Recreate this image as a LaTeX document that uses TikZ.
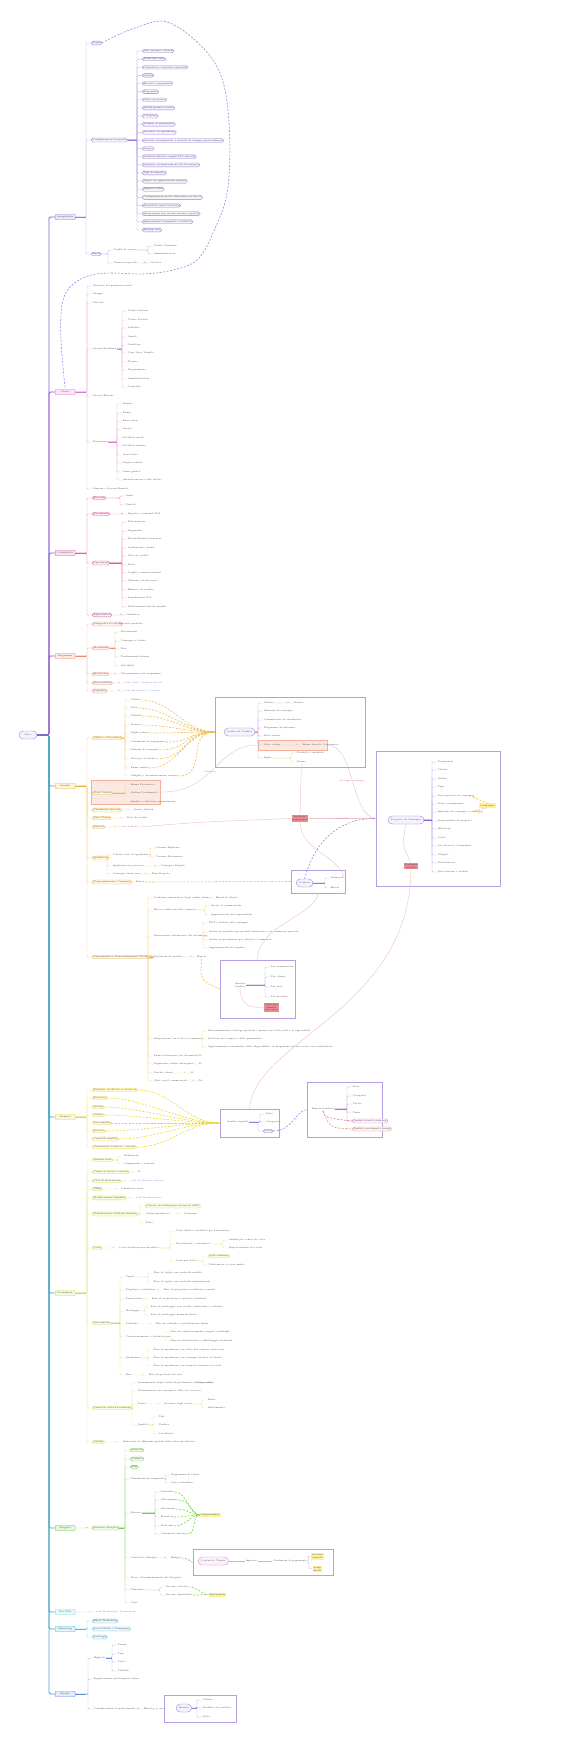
\documentclass[tikz,border=0pt]{standalone}
\usetikzlibrary{positioning}
\definecolor{cPurple}{HTML}{9A7BDF}
\definecolor{cMagenta}{HTML}{E07AD4}
\definecolor{cRose}{HTML}{E2579F}
\definecolor{cSalmon}{HTML}{EE8C6E}
\definecolor{cAmber}{HTML}{F2B634}
\definecolor{cYellow}{HTML}{EFD51C}
\definecolor{cLime}{HTML}{C6E24A}
\definecolor{cGreen}{HTML}{70CC46}
\definecolor{cTeal}{HTML}{8AD6D6}
\definecolor{cCyan}{HTML}{4DBDE6}
\definecolor{cBlue}{HTML}{6A8CDB}
\definecolor{cBox}{HTML}{B59FE2}
\definecolor{cRed}{HTML}{E88994}
\definecolor{cNote}{HTML}{FFF19A}
\definecolor{cLink}{HTML}{F0C4CB}
\definecolor{cTrunkA}{HTML}{8A5FC7}
\definecolor{cTrunkB}{HTML}{4FA6C4}
\definecolor{cViolet}{HTML}{A070E0}
\definecolor{cLinkBlue}{HTML}{7A8FE0}
\newcommand\fs{\fontsize{2.3}{2.7}\selectfont}
\tikzset{%
  txt/.style = {font=\fs, text=black!70, inner sep=0.6pt, anchor=west},
  pill/.style = {txt, draw=#1, fill=#1!10, rounded corners=1.8pt,
    line width=0.35pt, inner xsep=1.4pt, inner ysep=0.9pt},
  l1/.style = {pill=#1, fill=#1!18, rounded corners=1pt,
    minimum width=20pt, minimum height=5.5pt},
  oval/.style = {pill=#1, rounded corners=4pt, minimum height=8pt, inner xsep=3pt},
  frame/.style = {draw=cBox, line width=0.9pt, fill=white, inner sep=0pt},
  hlbox/.style = {draw=cSalmon!70, fill=cSalmon!20, line width=0.5pt, inner sep=0pt},
  redbox/.style = {font=\fs, fill=cRed, text=black!75, inner sep=1pt, align=center},
  note/.style = {font=\fs, fill=cNote, text=black!70, inner sep=1.2pt, align=center},
  map/.style = {#1, dash pattern=on 2pt off 1.5pt, line width=0.55pt},
  xref/.style = {cLink, line width=0.45pt},
}
% children of one parent: [style] parent color x prefix {y/text,...}
\newcommand\kids[6][txt]{%
  \foreach \yy/\lab [count=\k] in {#6}{%
    \node[#1=#3] (#5\k) at (#4,\yy) {\lab};
    \draw[#3!55, line width=0.4pt, rounded corners=1pt] (#5\k.west) -- ++(-5,0) |- (#2.east);
  }}
\newcommand\con[3]{\draw[#3!55, line width=0.4pt, rounded corners=1pt] (#2.west) -- ++(-5,0) |- (#1.east);}
\newcommand\stem[3]{\coordinate (stm) at (#3,0); \draw[#2, line width=0.9pt] (#1.east) -- (#1.east -| stm);}

\begin{document}
\begin{tikzpicture}[x=1pt,y=-1pt]
\useasboundingbox[fill=white] (0,0) rectangle (569,1755);

% frames
\node[frame, minimum width=150pt, minimum height=70pt] (boxA) at (290,732) {};
\node[frame, minimum width=124pt, minimum height=135pt] (boxP) at (438,818.5) {};
\node[frame, minimum width=54pt, minimum height=23pt] (boxC) at (318,881.5) {};
\node[frame, minimum width=75pt, minimum height=58pt] (boxD) at (257.5,989) {};
\node[frame, minimum width=59pt, minimum height=28pt] (boxE) at (249.5,1123) {};
\node[frame, minimum width=75pt, minimum height=55pt] (boxF) at (344.5,1109.5) {};
\node[frame, minimum width=140pt, minimum height=26pt] (boxG) at (263,1562) {};
\node[frame, minimum width=72pt, minimum height=27pt] (boxH) at (200,1708.5) {};
\node[hlbox, minimum width=69pt, minimum height=10pt] (hlA) at (292.5,745) {};
\node[hlbox, minimum width=69pt, minimum height=24pt] (hlE) at (125.5,792) {};

% root and first level
\node[oval=cPurple, anchor=center, minimum width=18pt] (root) at (28,735) {Odoo};
\foreach \nm/\yy/\cl/\lab in {A/217/cPurple/Anagrafiche, B/392/cMagenta/Utenti,
  C/553/cRose/Contabilità, D/656/cSalmon/Magazzino, E/786/cAmber/Vendite,
  F/1117/cYellow/Acquisti, G/1293/cLime/Produzione, H/1528/cGreen/Progetti,
  I/1612/cTeal/Sito Web, J/1629/cCyan/Marketing, K/1694/cBlue/Eventi}
  \node[l1=\cl] (\nm) at (55,\yy) {\lab};
\foreach \nm in {E,F,G,H,I,J,K}
  \draw[cTrunkB, line width=0.8pt, rounded corners=1.5pt] (\nm.west) -- ++(-6,0) |- (root.east);
\foreach \nm in {A,B,C,D}
  \draw[cTrunkA, line width=0.8pt, rounded corners=1.5pt] (\nm.west) -- ++(-6,0) |- (root.east);

% Anagrafiche
\kids[pill]{A}{cPurple}{91}{A}{43/Login, 140/Configurazione Generale, 254/Ruoli}
\stem{A}{cPurple}{86}
\kids[pill]{A2}{cPurple}{142}{A2k}{51/Dati azienda e fiscali, 59.1/Piano dei conti,
  67.3/Calendario e festività aziendali, 75.4/Valute, 83.5/Banche e pagamenti,
  91.7/Magazzini, 99.8/Unità di misura, 108/Listini prezzi e sconti, 116.1/Categorie,
  124.2/Termini di pagamento, 132.4/Modalità di spedizione,
  140.5/Gestione documentale e modelli di stampa personalizzati, 148.6/Lingue,
  156.8/Posizioni fiscali e regimi IVA speciali, 164.9/Sequenze di numerazione dei documenti,
  173/Tipi di imposta, 181.2/Regole di approvazione interne, 189.3/Reparti e sedi,
  197.4/Configurazione posta elettronica in uscita, 205.6/Modelli di email standard,
  213.7/Integrazioni con servizi esterni e portali, 221.8/Impostazioni stampanti e etichette,
  230/Backup dati}
\stem{A2}{cPurple}{137}
\kids{A3}{cPurple}{113}{A3k}{250/Profili di accesso, 263/Permessi speciali}
\kids{A3k1}{cPurple}{153}{A3m}{246/Utente Standard, 254/Amministratore}
\kids{A3k2}{cPurple}{150}{A3n}{263/Gestore}
\draw[map=cPurple] plot[smooth, tension=0.6] coordinates {(A1.east) (135,28) (170,23)
  (213,60) (228,110) (228,187) (213,233) (197,260) (173,270) (143,274) (110,273)
  (88,276) (70,287) (62,305) (61,340) (B.north)};

% Utenti
\kids{B}{cMagenta}{92}{B}{286/Gestione dei permessi utenti, 294/Gruppi, 303/Attività,
  349/Accessi Standard, 396/Accessi Esterni, 442/Preferenze, 489/Sessioni e Accessi Remoti}
\stem{B}{cMagenta}{86}
\kids{B4}{cMagenta}{127}{B4k}{311/Utente Interno, 320/Utente Portale, 328/Pubblico,
  337/Ospite, 345/Venditore, 353/Capo Area Vendite, 362/Tecnico, 370/Magazziniere,
  379/Amministratore, 387/Contabile}
\stem{B4}{cMagenta}{122}
\kids{B6}{cMagenta}{122}{B6k}{404/Lingua, 413/Firma, 421/Fuso orario, 429/Avatar,
  438/Notifiche email, 446/Notifiche interne, 455/Scorciatoie, 463/Pagina iniziale,
  472/Tema grafico, 480/Autenticazione a due fattori}
\stem{B6}{cMagenta}{117}

% Contabilita
\kids[pill]{C}{cRose}{92}{C}{498/Esercizi, 514/Documenti, 563/Operazioni, 615/Reportistica}
\stem{C}{cRose}{86}
\kids{C1}{cRose}{125}{C1k}{496/Anno, 505/Periodi}
\kids{C2}{cRose}{127}{C2k}{514/Registri e sezionali IVA}
\kids{C3}{cRose}{127}{C3k}{522/Fatturazione, 531/Pagamenti, 539/Riconciliazione bancaria,
  548/Scadenziario clienti, 556/Note di credito, 565/Ratei, 573/Cespiti e ammortamenti,
  581/Chiusure di fine anno, 590/Bilancio di verifica, 598/Liquidazione IVA,
  607/Dichiarazioni fiscali annuali}
\stem{C3}{cRose}{122}
\kids{C4}{cRose}{126}{C4k}{615/Analitica}

% Magazzino
\kids[pill]{D}{cSalmon}{92}{D}{624/Anagrafica Prodotti, 648/Movimenti, 674/Inventario,
  683/Tracciabilità, 691/Logistica}
\stem{D}{cSalmon}{86}
\kids{D1}{cSalmon}{118}{D1k}{624/Varianti prodotto}
\kids{D2}{cSalmon}{120}{D2k}{632/Ricevimenti, 641/Consegne a clienti, 649/Resi,
  657/Trasferimenti interni, 666/Rettifiche}
\stem{D2}{cSalmon}{115}
\kids{D3}{cSalmon}{120}{D3k}{674/Valorizzazione del magazzino}
\node[txt, text=cViolet] (D4k1) at (124,683) {vedi Lotti e Numeri Seriali};
\con{D4}{D4k1}{cSalmon}
\node[txt, text=cLinkBlue] (D5k1) at (124,691) {vedi Spedizioni e Corrieri};
\con{D5}{D5k1}{cSalmon}

% Vendite
\kids[pill]{E}{cAmber}{92}{E}{738/Offerte e Preventivi, 793/Stato Ordine,
  810/Condizioni Speciali, 818/Resi Clienti, 827/Ritardi, 858/Spedizioni,
  882/Programmazione Consegne, 957/Automazioni e Personalizzazioni Workflow}
\stem{E}{cAmber}{86}
\kids{E1}{cAmber}{130}{E1k}{700/Cliente, 708/Data, 716/Validità, 725/Listino,
  733/Righe ordine, 742/Condizioni di pagamento, 750/Termini di consegna,
  759/Note per il cliente, 768/Firma online, 776/Allegati e documentazione tecnica}
\stem{E1}{cAmber}{123}
\foreach \k in {1,...,10}
  \draw[map=cAmber] (E1k\k.east) .. controls +(30,0) and +(-30,0) .. (boxA.west);
\kids{E2}{cAmber}{130}{E2k}{785/Bozza Preventivo, 793/Ordine Confermato,
  802/Spedito e fatturato parzialmente}
\stem{E2}{cAmber}{125}
\kids{E3}{cAmber}{133}{E3k}{810/Sconto fedeltà}
\kids{E4}{cAmber}{126}{E4k}{818/Nota di credito}
\node[txt, text=cRose] (E5k1) at (120,827) {vedi Solleciti};
\con{E5}{E5k1}{cAmber}
\kids{E6}{cAmber}{112}{E6k}{855/Calcolo costi di spedizione, 866/Spedizione in giornata,
  874/Consegna fuori zona}
\kids{E6k1}{cAmber}{155}{E6a}{848/Corriere Espresso, 857/Corriere Economico}
\kids{E6k2}{cAmber}{160}{E6b}{866/Consegna Rapida}
\kids{E6k3}{cAmber}{151}{E6c}{874/Zone Remote}
\kids{E7}{cAmber}{135}{E7k}{882/Marca}
\draw[map=cAmber] (E7k1.east) -- (boxC.west);
\kids{E8}{cAmber}{153}{E8k}{898/Conferma automatica degli ordini online,
  910/Blocco ordini per fido superato, 936/Generazione automatica dei documenti,
  957/Previsioni di vendita, 1039/Integrazione con il sito e-commerce,
  1056/Firma elettronica dei documenti, 1064/Pagamento online anticipato,
  1073/Portale clienti, 1081/Chat con il commerciale}
\stem{E8}{cAmber}{148}
\kids{E8k1}{cAmber}{215}{E8a}{898/Email al cliente}
\kids{E8k2}{cAmber}{210}{E8b}{906/Avviso al commerciale, 915/Approvazione del responsabile}
\kids{E8k3}{cAmber}{208}{E8c}{923/DDT e fatture alla consegna,
  932/Ordini di acquisto per prodotti mancanti e su commessa speciale,
  940/Ordini di produzione per articoli a commessa, 948/Aggiornamento dei prezzi}
\kids{E8k4}{cAmber}{196}{E8d}{957/Report}
\draw[map=cAmber] (E8d1.south) .. controls (200,980) .. (boxD.west);
\kids{E8k5}{cAmber}{207}{E8e}{1031/Sincronizzazione catalogo prodotti e prezzi con il sito web e le app mobili,
  1039/Gestione dei coupon e delle promozioni,
  1047/Aggiornamento automatico della disponibilità di magazzino sul sito web e sui marketplace}
\kids{E8k6}{cAmber}{198}{E8f}{1056/Sì}
\kids{E8k7}{cAmber}{198}{E8g}{1064/Sì}
\kids{E8k8}{cAmber}{190}{E8h}{1073/Sì}
\kids{E8k9}{cAmber}{198}{E8i}{1081/No}

% order box
\node[oval=cPurple] (SO) at (224,732) {Ordine di Vendita};
\kids{SO}{cPurple}{263}{SOk}{703/Cliente, 711/Indirizzo di consegna,
  720/Commerciale di riferimento, 728/Magazzino di partenza, 736/Data ordine,
  745/Stato ordine, 758/Righe}
\stem{SO}{cSalmon}{258}
\kids{SOk1}{cPurple}{293}{SOp}{703/Listino}
\kids{SOk6}{cSalmon}{302}{SOq}{745/Bozza Inviato Confermato}
\kids{SOk7}{cAmber}{296}{SOr}{753/Prodotto e quantità, 762/Prezzo}

% carriers box
\node[oval=cPurple] (Cn) at (296,883) {Corrieri};
\kids{Cn}{cPurple}{330}{Cnk}{878/Nazionali, 888/Esteri}
\stem{Cn}{cPurple}{325}

% project box
\node[oval=cPurple, minimum width=32pt] (PC) at (388,820) {Progetto di Consegna};
\kids{PC}{cPurple}{437}{PCk}{762/Descrizione, 770/Cliente, 779/Ordine, 787/Tipo,
  796/Data prevista di consegna, 804/Stato avanzamento, 812/Indirizzo di consegna e contatto,
  821/Responsabile di progetto, 829/Milestone, 838/Costi, 846/Ore lavorate e timesheet,
  855/Allegati, 863/Fatturazione, 872/Note interne e verbali}
\stem{PC}{cTrunkA}{432}
\node[note] (calN) at (487.5,805.5) {Calendario};
\draw[map=cAmber] (PCk5.east) .. controls (470,796) .. (calN.north);
\draw[map=cAmber] (PCk7.east) .. controls (470,812) .. (calN.south);
\node[redbox] (rbP) at (411,866) {Scadenze\\critiche};

% sales analysis box
\node[txt, align=center, anchor=center] (AV) at (240,985) {Analisi\\Vendite};
\kids{AV}{cPurple}{270}{AVk}{967/Per commerciale, 977/Per cliente, 987/Per area, 997/Per prodotto}
\stem{AV}{cPurple}{265}
\node[redbox] (rbD) at (271.5,1007.5) {Obiettivi\\annuali\\per area};
\draw[xref] (AV.south) .. controls (240,1005) and (250,1008) .. (rbD.west);

% reminders
\node[redbox] (rbE) at (300,818.5) {Solleciti\\pagamento};

% Acquisti
\kids[pill]{F}{cYellow}{92}{F}{1090/Richieste di offerta ai fornitori, 1098/Fornitori,
  1107/Listini, 1115/Ordini, 1123/Ricevimenti, 1131/Fatture, 1139/Controllo qualità,
  1147/Valutazione fornitori e ritardi}
\stem{F}{cYellow}{86}
\foreach \k in {1,...,8}
  \draw[map=cYellow] (F\k.east) .. controls +(35,0) and +(-35,0) .. (boxE.west);
\node[txt] (AA) at (226,1122) {Analisi acquisti};
\kids{AA}{cPurple}{265}{AAk}{1114/Stato, 1122/Categoria}
\node[pill=cPurple] (AAk3) at (263,1131) {Costi};
\con{AA}{AAk3}{cPurple}
\stem{AA}{cPurple}{259}
\draw[map=cPurple] (AAk3.east) .. controls (292,1131) and (295,1112) .. (boxF.west);
\node[txt] (RF) at (311,1109) {Report fornitori};
\kids{RF}{cPurple}{352}{RFk}{1087/Data, 1096/Categoria, 1104/Totale, 1113/Tasse}
\node[pill=cMagenta] (RFk5) at (352,1121) {Analisi ritardi consegna};
\node[pill=cSalmon] (RFk6) at (352,1129) {Analisi scostamento prezzi};
\con{RF}{RFk5}{cMagenta}
\con{RF}{RFk6}{cSalmon}
\stem{RF}{cRose}{347}
\draw[map=cRose] (RF.south) .. controls (326,1118) .. (RFk5.west);
\draw[map=cSalmon] (RF.south) .. controls (330,1128) .. (RFk6.west);

% Produzione
\kids[pill]{G}{cLime}{92}{G}{1160/Distinte base, 1172/Centri di lavoro e risorse,
  1181/Cicli di lavorazione, 1189/Turni, 1198/Manutenzione impianti,
  1214/Pianificazione della produzione, 1248/Costi, 1323/Lavorazioni,
  1408/Controllo della Produzione, 1442/Analisi}
\stem{G}{cLime}{86}
\kids{G1}{cLime}{123}{G1k}{1156/Definizione, 1164/Componenti e varianti}
\kids{G2}{cLime}{137}{G2k}{1172/Sì}
\node[txt, text=cLinkBlue] (G3k1) at (130,1181) {vedi Produzione interna};
\con{G3}{G3k1}{cLime}
\kids{G4}{cLime}{120}{G4k}{1189/Calendario turni}
\node[txt, text=cRose] (G5k1) at (135,1198) {vedi Manutenzione};
\con{G5}{G5k1}{cLime}
\node[pill=cLime] (G6k1) at (145,1206) {Calcolo del fabbisogno materiali MRP};
\con{G6}{G6k1}{cLime}
\kids{G6}{cLime}{145}{G6m}{1214/Ordini pianificati, 1223/Stato}
\kids{G6m1}{cLime}{183}{G6n}{1214/Conferma}
\kids{G7}{cLime}{118}{G7k}{1248/Costo standard per prodotto}
\kids{G7k1}{cLime}{175}{G7a}{1231/Costi diretti e indiretti per lavorazione,
  1244/Scostamenti e consuntivi, 1261/Costi per Lotto}
\kids{G7a2}{cLime}{228}{G7b}{1240/Analisi per centro di costo, 1248/Report mensile dei costi}
\node[pill=cLime] (G7c1) at (208,1256) {Lotto minimo};
\con{G7a3}{G7c1}{cLime}
\kids{G7a3}{cLime}{208}{G7d}{1265/Valutazione a costo medio}
\kids{G8}{cLime}{125}{G8k}{1277/Taglio, 1290/Piegatura e saldatura, 1299/Verniciatura,
  1311/Montaggio, 1324/Collaudo, 1337/Confezionamento e etichettatura, 1358/Spedizione,
  1375/Resi}
\stem{G8}{cLime}{120}
\kids{G8k1}{cLime}{153}{G8a}{1273/Fase di taglio con controllo qualità,
  1282/Fase di taglio con controllo dimensionale}
\kids{G8k2}{cLime}{163}{G8b}{1290/Fase di piegatura e saldatura a punti}
\kids{G8k3}{cLime}{151}{G8c}{1299/Fase di verniciatura a polvere standard}
\kids{G8k4}{cLime}{150}{G8d}{1307/Fase di montaggio con verifica funzionale e collaudo,
  1315/Fase di montaggio manuale finale}
\kids{G8k5}{cLime}{155}{G8e}{1324/Fase di collaudo e certificazione finale}
\kids{G8k6}{cLime}{170}{G8f}{1332/Fase di confezionamento singolo e multiplo,
  1341/Fase di etichettatura e imballaggio standard}
\kids{G8k7}{cLime}{153}{G8g}{1350/Fase di spedizione con ritiro del corriere entro sera,
  1358/Fase di spedizione con consegna diretta al cliente,
  1366/Fase di spedizione con trasporto interno tra sedi}
\kids{G8k8}{cLime}{148}{G8h}{1375/Fase di gestione dei resi}
\kids{G9}{cLime}{137}{G9k}{1383/Avanzamento degli ordini di produzione in tempo reale,
  1391/Dichiarazione dei consumi e delle ore lavorate, 1404/Scarti, 1425/Qualità}
\stem{G9}{cLime}{131}
\kids{G9k1}{cLime}{195}{G9a}{1383/Stato ordine}
\kids{G9k3}{cLime}{163}{G9b}{1404/Gestione degli scarti}
\kids{G9b1}{cLime}{207}{G9c}{1400/Riuso, 1408/Smaltimento}
\kids{G9k4}{cLime}{158}{G9d}{1417/Test, 1425/Verifica, 1434/Certificato}
\kids{G10}{cLime}{122}{G10k}{1442/Indicatori di efficienza globale delle linee produttive}

% Progetti
\kids[pill]{H}{cGreen}{92}{H}{1528/Gestione Progetti}
\kids[pill]{H1}{cGreen}{130}{Hp}{1450/Attività, 1459/Compiti, 1467/Fasi}
\kids{H1}{cGreen}{130}{Hk}{1479/Pianificazione temporale, 1513/Risorse,
  1558/Contratti e Budget, 1578/Note e Documentazione del Progetto, 1590/Timesheet, 1603/Chat}
\stem{H1}{cGreen}{124}
\kids{Hk1}{cGreen}{170}{Ha}{1475/Diagramma di Gantt, 1483/Vista calendario}
\kids{Hk2}{cGreen}{160}{Hb}{1492/Personale, 1500/Attrezzature, 1509/Automezzi,
  1517/Fornitori, 1526/Materiali, 1534/Consulenti esterni}
\stem{Hk2}{cGreen}{155}
\node[note] (dispN) at (210.5,1515) {Disponibilità};
\foreach \k in {1,...,6}
  \draw[map=cGreen] (Hb\k.east) .. controls +(12,0) and +(-10,0) .. (dispN.west);
\kids{Hk3}{cGreen}{170}{Hc}{1558/Budget}
\draw[map=cGreen] (Hc1.east) .. controls (185,1558) .. (boxG.west);
\kids{Hk5}{cGreen}{165}{Hd}{1587/Ore per attività, 1595/Ore per dipendente}
\node[note] (fatN) at (217.5,1594.5) {Fatturabile};
\foreach \k in {1,2}
  \draw[map=cGreen] (Hd\k.east) .. controls +(10,0) and +(-8,0) .. (fatN.west);

% contract box
\node[oval=cMagenta] (CP) at (198,1561) {Contratto Cliente};
\node[txt] (CPa) at (245,1561) {Importo};
\node[txt] (CPb) at (272,1561) {Condizioni di pagamento};
\draw[cPurple!60, line width=0.8pt] (CP.east) -- (CPa.west);
\draw[cPurple!60, line width=0.8pt] (CPa.east) -- (CPb.west);
\node[note] (accN) at (317.5,1556.5) {Acconto\\iniziale};
\node[note] (salN) at (317.5,1569) {Saldo\\finale};
\draw[black!25, line width=0.4pt] (CPb.east) .. controls +(3,-6) and +(-6,0) .. (accN.west);
\draw[black!25, line width=0.4pt] (CPb.east) .. controls +(3,6) and +(-6,0) .. (salN.west);

% Sito Web, Marketing
\node[txt, text=cRose] (I1) at (95,1612) {vedi Marketing e Promozioni};
\con{I}{I1}{cTeal}
\kids[pill]{J}{cCyan}{92}{J}{1621/Email Marketing, 1629/Social Media e Campagne, 1637/Sondaggi}
\stem{J}{cCyan}{86}

% Eventi
\kids{K}{cBlue}{93}{K}{1658/Biglietti, 1679/Registrazione partecipanti online,
  1709/Comunicazioni ai partecipanti}
\stem{K}{cBlue}{86}
\kids{K1}{cBlue}{117}{K1k}{1645/Prezzo, 1654/Tipo, 1662/Posti, 1671/Validità}
\stem{K1}{cBlue}{112}
\kids{K3}{cBlue}{143}{K3k}{1709/Email}
\draw[map=cBlue] (K3k1.east) -- (boxH.west);
\node[oval=cPurple] (EV) at (176,1708) {Evento};
\kids{EV}{cPurple}{202}{EVk}{1700/Cliente, 1708/Modalità di contatto, 1717/Stato}
\stem{EV}{cPurple}{197}

% cross references
\draw[xref] (hlE.east) .. controls (215,793) and (215,745) .. (hlA.west)
  node[pos=0.45, txt, anchor=center, text=cRose] {collegato};
\draw[xref] (hlA.east) .. controls (355,745) and (350,815) .. (boxP.west)
  node[pos=0.5, txt, anchor=center, text=cRose] {dettaglio consegne};
\draw[xref] (E5k1.east) .. controls (200,822) .. (rbE.west);
\draw[xref] (SOr2.south) -- (rbE.north);
\draw[xref] (rbE.east) -- (boxP.west)
  node[midway, txt, anchor=center, text=cRose] {in ritardo};
\draw[xref] (rbE.south) .. controls (300,850) and (338,855) .. (Cnk1.east);
\draw[xref] (boxD.north) .. controls (258,925) and (316,915) .. (boxC.south);
\draw[map=cPurple] (Cn.north) .. controls (315,840) and (340,818) .. (boxP.west);
\draw[xref] (PC.south) .. controls (402,845) .. (rbP.north);
\draw[xref] (rbP.south) .. controls (410,1010) and (255,1040) .. (boxE.north);
\end{tikzpicture}
\end{document}
